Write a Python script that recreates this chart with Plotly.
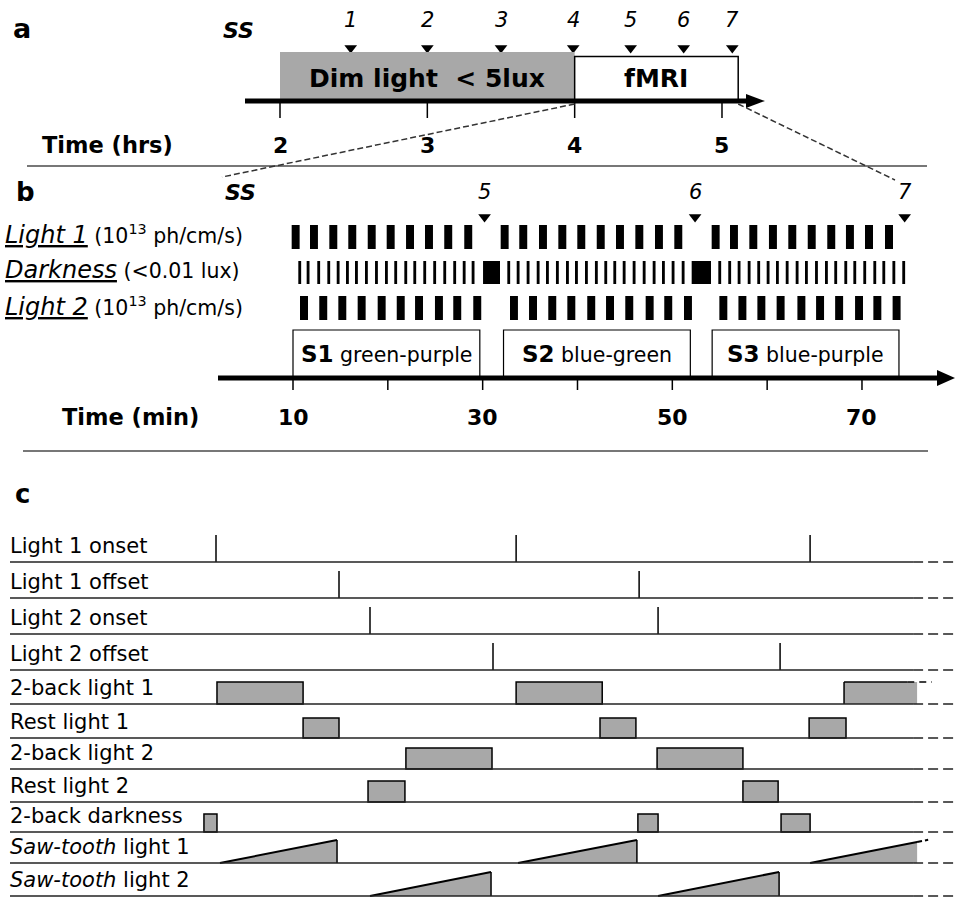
import plotly.graph_objects as go

# ------------------------------------------------------------------ data
# (a) overall protocol, time in hours
HRS_TICKS = [2, 3, 4, 5]
DIM_LIGHT_HRS = [2.0, 4.0]
FMRI_HRS = [4.0, 5.11]
PROBE_A_LABELS = ["1", "2", "3", "4", "5", "6", "7"]
PROBE_A_HRS = [2.48, 3.0, 3.5, 3.99, 4.38, 4.74, 5.07]

# (b) the three fMRI sessions, time in minutes
MIN_TICKS = [10, 20, 30, 40, 50, 60, 70]
MIN_TICK_LABELS = ["10", "", "30", "", "50", "", "70"]
SESSION_NAMES = ["S1", "S2", "S3"]
SESSION_PAIRS = ["green-purple", "blue-green", "blue-purple"]
SESSION_START_MIN = [10.0, 32.2, 54.2]
SESSION_END_MIN = [29.7, 51.9, 73.9]
PROBE_B_LABELS = ["5", "6", "7"]
PROBE_B_MIN = [30.2, 52.4, 74.5]
LIGHT1_ON_MIN = [9.86, 11.79, 13.83, 15.83, 17.88, 19.88, 21.92, 23.92, 25.95, 28.06,
                 31.90, 33.86, 35.94, 37.98, 39.98, 42.03, 44.06, 46.10, 48.17, 50.21,
                 54.15, 56.08, 58.12, 60.19, 62.23, 64.28, 66.34, 68.31, 70.32, 72.43]
LIGHT2_ON_MIN = [10.74, 12.77, 14.78, 16.82, 18.93, 20.94, 22.87, 24.97, 26.90, 29.01,
                 32.88, 34.89, 36.92, 38.93, 41.03, 43.01, 45.04, 47.19, 49.15, 51.23,
                 54.96, 56.97, 58.97, 61.00, 63.19, 65.16, 67.17, 69.27, 71.20, 73.23]
DARK_ON_MIN = [10.56, 11.44, 12.56, 13.62, 14.61, 15.59, 16.54, 17.59, 18.65, 19.70,
               20.68, 21.74, 22.69, 23.74, 24.79, 25.85, 26.90, 27.90, 28.84,
               32.60, 33.59, 34.64, 35.70, 36.68, 37.73, 38.79, 39.74, 40.79, 41.84,
               42.83, 43.78, 44.77, 45.82, 46.88, 47.93, 48.91, 49.93, 50.99,
               54.85, 55.90, 56.89, 57.95, 58.96, 59.95, 60.93, 61.96, 63.01, 63.99,
               65.05, 66.10, 67.08, 68.14, 69.09, 70.14, 71.20, 72.15, 73.21, 74.25]
DARK_BREAK_MIN = [(30.04, 31.83), (52.04, 54.08)]
LIGHT_PULSE_MIN = 0.84
DARK_PULSE_MIN = 0.30

# (c) regressors of the design, time in seconds
C_LABELS = ["Light 1 onset", "Light 1 offset", "Light 2 onset", "Light 2 offset",
            "2-back light 1", "Rest light 1", "2-back light 2", "Rest light 2",
            "2-back darkness", "<i>Saw-tooth</i> light 1", "<i>Saw-tooth</i> light 2"]
L1_ONSET_S = [0.0, 122.0, 241.5]
L1_OFFSET_S = [50.0, 172.0]
L2_ONSET_S = [62.6, 179.7]
L2_OFFSET_S = [112.6, 229.3]
TWOBACK_L1_S = [(0.4, 35.4), (122.0, 157.0), (255.3, 290.3)]
REST_L1_S = [(35.4, 50.0), (156.1, 170.7), (241.1, 256.1)]
TWOBACK_L2_S = [(77.2, 112.2), (179.3, 214.2)]
REST_L2_S = [(61.8, 76.8), (214.2, 228.5)]
TWOBACK_DARK_S = [(-4.9, 0.4), (171.5, 179.7), (229.7, 241.5)]
SAW_L1_S = [(1.6, 49.2), (122.8, 171.1), (241.5, 289.1)]
SAW_L2_S = [(62.6, 111.8), (179.7, 228.9)]
C_VISIBLE_END_S = 285.0

# ------------------------------------------------------------------ layout constants
W, H = 956, 897
FONT = "DejaVu Sans"
GRAY = "#a8a8a8"
RULE = "#4a4a4a"

# horizontal scales (pixel of a reference value, pixels per unit)
HRS_REF, HRS_REF_PX, HRS_PPU = 2.0, 280.0, 147.33
MIN_REF, MIN_REF_PX, MIN_PPU = 10.0, 293.0, 9.483
SEC_REF, SEC_REF_PX, SEC_PPU = 0.0, 216.0, 2.46


def axis_range(ref, ref_px, ppu):
    return [ref - ref_px / ppu, ref + (W - ref_px) / ppu]


def to_px(v, ref, ref_px, ppu):
    return ref_px + (v - ref) * ppu


def P(px):
    """horizontal pixel -> paper fraction"""
    return px / W


shapes, annotations, traces = [], [], []


def line(x0, y0, x1, y1, xref="paper", color="black", width=1.5, dash="solid"):
    shapes.append(dict(type="line", xref=xref, yref="y", x0=x0, y0=y0, x1=x1, y1=y1,
                       line=dict(color=color, width=width, dash=dash)))


def rect(x0, x1, y0, y1, xref, fill, lw=0, lc="black"):
    shapes.append(dict(type="rect", xref=xref, yref="y", x0=x0, x1=x1, y0=y0, y1=y1,
                       fillcolor=fill, line=dict(color=lc, width=lw)))


def path(d, xref, fill, lw=0, lc="black"):
    shapes.append(dict(type="path", xref=xref, yref="y", path=d, fillcolor=fill,
                       line=dict(color=lc, width=lw)))


def text(x, y, s, size, xref="paper", xanchor="left", yanchor="middle"):
    annotations.append(dict(x=x, y=y, xref=xref, yref="y", text=s, showarrow=False,
                            xanchor=xanchor, yanchor=yanchor,
                            font=dict(family=FONT, size=size, color="black")))


def arrow_axis(x_start, x_tip, y, lw=5, head_len=19, head_half=7):
    line(P(x_start), y, P(x_tip - head_len + 2), y, width=lw)
    path(f"M {P(x_tip - head_len)},{y - head_half} L {P(x_tip)},{y} "
         f"L {P(x_tip - head_len)},{y + head_half} Z", "paper", "black")


# ================================================================== panel a
text(P(11), 28, "<b>a</b>", 27)
text(P(238), 30, "<b><i>SS</i></b>", 22, xanchor="center")

rect(DIM_LIGHT_HRS[0], DIM_LIGHT_HRS[1], 52, 101, "x", GRAY)
rect(FMRI_HRS[0], FMRI_HRS[1], 56.5, 101, "x", "white", lw=1.5)
text(P(427), 78, "<b>Dim light&nbsp; &lt; 5lux</b>", 25, xanchor="center")
text((FMRI_HRS[0] + FMRI_HRS[1]) / 2, 78, "<b>fMRI</b>", 25, xref="x", xanchor="center")

arrow_axis(245, 765, 101)
for h in HRS_TICKS:
    line(h, 101, h, 118, xref="x", width=1.5)
    text(h, 145, f"<b>{h}</b>", 22, xref="x", xanchor="center")
text(P(40), 145, "<b>Time (hrs)</b>", 22.5)

traces.append(go.Scatter(x=PROBE_A_HRS, y=[48] * len(PROBE_A_HRS), xaxis="x", yaxis="y",
                         mode="markers", hoverinfo="skip",
                         marker=dict(symbol="triangle-down", size=11, color="black")))
for lab, h in zip(PROBE_A_LABELS, PROBE_A_HRS):
    text(h, 20, f"<i>{lab}</i>", 21, xref="x", xanchor="center")

line(P(27), 166, P(927), 166, color=RULE, width=1.5)

# dashed zoom links from the fMRI period to panel b
hx0 = to_px(FMRI_HRS[0], HRS_REF, HRS_REF_PX, HRS_PPU)
hx1 = to_px(FMRI_HRS[1], HRS_REF, HRS_REF_PX, HRS_PPU)
line(P(hx0), 104, P(222), 177, color="#333333", width=1.5, dash="6px,3px")
line(P(hx1), 104, P(895), 180, color="#333333", width=1.5, dash="6px,3px")

# ================================================================== panel b
text(P(14), 192, "<b>b</b>", 26)
text(P(241), 192, "<b><i>SS</i></b>", 22, xanchor="center")

traces.append(go.Scatter(x=PROBE_B_MIN, y=[217] * len(PROBE_B_MIN), xaxis="x2", yaxis="y",
                         mode="markers", hoverinfo="skip",
                         marker=dict(symbol="triangle-down", size=11, color="black")))
for lab, m in zip(PROBE_B_LABELS, PROBE_B_MIN):
    text(m, 192, f"<i>{lab}</i>", 21, xref="x2", xanchor="center")

PAREN = "<span style='font-size:20.5px'>"
text(P(3), 235, f"<i><u>Light 1</u></i>{PAREN} (10<sup>13</sup> ph/cm/s)</span>", 24)
text(P(3), 270, f"<i><u>Darkness</u></i>{PAREN} (&lt;0.01 lux)</span>", 24)
text(P(3), 307, f"<i><u>Light 2</u></i>{PAREN} (10<sup>13</sup> ph/cm/s)</span>", 24)

for t in LIGHT1_ON_MIN:
    rect(t, t + LIGHT_PULSE_MIN, 225, 249, "x2", "black")
for t in DARK_ON_MIN:
    rect(t, t + DARK_PULSE_MIN, 261, 284, "x2", "black")
for t0, t1 in DARK_BREAK_MIN:
    rect(t0, t1, 261, 284, "x2", "black")
for t in LIGHT2_ON_MIN:
    rect(t, t + LIGHT_PULSE_MIN, 296, 320, "x2", "black")

for name, pair, s0, s1 in zip(SESSION_NAMES, SESSION_PAIRS, SESSION_START_MIN, SESSION_END_MIN):
    rect(s0, s1, 330, 378, "x2", "white", lw=1.2)
    text((s0 + s1) / 2, 354, f"<b>{name}</b><span style='font-size:20.5px'> {pair}</span>",
         23, xref="x2", xanchor="center")

arrow_axis(218, 955, 378, head_len=18, head_half=8)
for m, lab in zip(MIN_TICKS, MIN_TICK_LABELS):
    line(m, 378, m, 390, xref="x2", width=1.5)
    if lab:
        text(m, 417, f"<b>{lab}</b>", 22, xref="x2", xanchor="center")
text(P(60), 417, "<b>Time (min)</b>", 22.5)

line(P(23), 451, P(928), 451, color=RULE, width=1.5)

# ================================================================== panel c
text(P(13), 494, "<b>c</b>", 26)

C_BASE = [562, 598, 634, 670, 704, 738, 769, 802, 832, 863, 896]
EVENT_H = 27
vis_px = to_px(C_VISIBLE_END_S, SEC_REF, SEC_REF_PX, SEC_PPU)
dash_c = "10px,5px"


def events(times, base):
    xs, ys = [], []
    for t in times:
        xs += [t, t, None]
        ys += [base, base - EVENT_H, None]
    traces.append(go.Scatter(x=xs, y=ys, xaxis="x3", yaxis="y", mode="lines",
                             hoverinfo="skip", line=dict(color="black", width=1.5)))


def blocks(spans, base, h):
    for t0, t1 in spans:
        if t1 <= C_VISIBLE_END_S:
            rect(t0, t1, base - h, base, "x3", GRAY, lw=1.5)
        else:
            rect(t0, C_VISIBLE_END_S, base - h, base, "x3", GRAY)
            line(t0, base, t0, base - h, xref="x3", width=1.5)
            line(t0, base - h, C_VISIBLE_END_S - 4, base - h, xref="x3", width=1.5)
            line(C_VISIBLE_END_S - 4, base - h, C_VISIBLE_END_S + 6, base - h,
                 xref="x3", width=1.5, dash="7px,5px")


def ramps(spans, base, h):
    for t0, t1 in spans:
        end = min(t1, C_VISIBLE_END_S)
        top = base - h * (end - t0) / (t1 - t0)
        path(f"M {t0},{base} L {end},{top} L {end},{base} Z", "x3", GRAY)
        line(t0, base, end, top, xref="x3", width=2)
        if t1 <= C_VISIBLE_END_S:
            line(end, top, end, base, xref="x3", width=1.5)
        else:
            ext = end + 4.5
            line(end, top, ext, base - h * (ext - t0) / (t1 - t0), xref="x3",
                 width=2, dash="5px,3px")


events(L1_ONSET_S, C_BASE[0])
events(L1_OFFSET_S, C_BASE[1])
events(L2_ONSET_S, C_BASE[2])
events(L2_OFFSET_S, C_BASE[3])
blocks(TWOBACK_L1_S, C_BASE[4], 22)
blocks(REST_L1_S, C_BASE[5], 20)
blocks(TWOBACK_L2_S, C_BASE[6], 21)
blocks(REST_L2_S, C_BASE[7], 21)
blocks(TWOBACK_DARK_S, C_BASE[8], 18)
ramps(SAW_L1_S, C_BASE[9], 23)
ramps(SAW_L2_S, C_BASE[10], 24)

for lab, base in zip(C_LABELS, C_BASE):
    line(P(10), base, P(vis_px - 4), base, color="#222222", width=1.6)
    line(P(vis_px - 4), base, P(W), base, color="#222222", width=1.6, dash=dash_c)
    text(P(8), base - 2, lab, 21, yanchor="bottom")

# ------------------------------------------------------------------ figure
fig = go.Figure(data=traces)
fig.update_layout(
    width=W, height=H, margin=dict(l=0, r=0, t=0, b=0),
    paper_bgcolor="white", plot_bgcolor="white", showlegend=False,
    xaxis=dict(range=axis_range(HRS_REF, HRS_REF_PX, HRS_PPU), domain=[0, 1],
               visible=False, fixedrange=True, anchor="y"),
    xaxis2=dict(range=axis_range(MIN_REF, MIN_REF_PX, MIN_PPU), overlaying="x",
                visible=False, fixedrange=True, anchor="y"),
    xaxis3=dict(range=axis_range(SEC_REF, SEC_REF_PX, SEC_PPU), overlaying="x",
                visible=False, fixedrange=True, anchor="y"),
    yaxis=dict(range=[H, 0], domain=[0, 1], visible=False, fixedrange=True),
    shapes=shapes, annotations=annotations,
)
fig.write_html("out.html")
